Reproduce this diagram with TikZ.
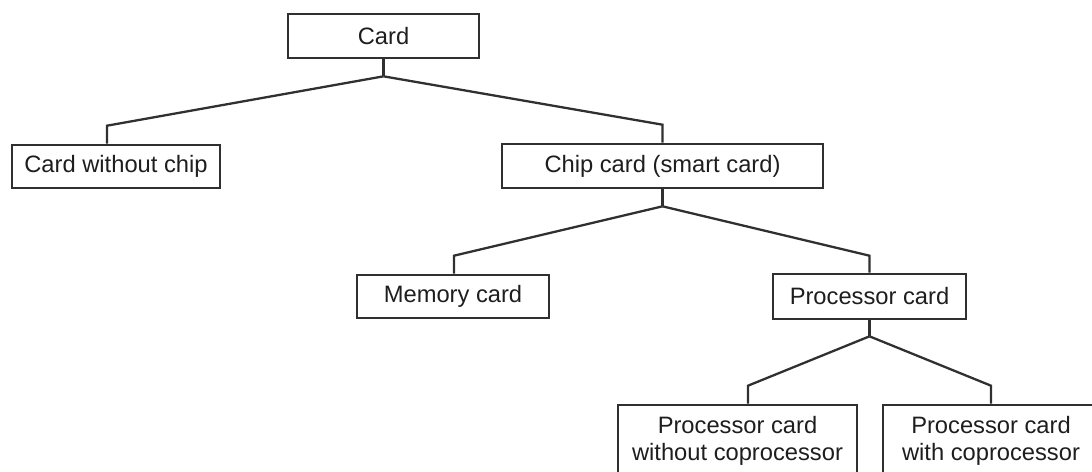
\documentclass[tikz,border=0pt]{standalone}
\usepackage{fontspec}
\setmainfont{Liberation Sans}
\usetikzlibrary{calc}
\definecolor{ink}{HTML}{1E1E1E}
\definecolor{edge}{HTML}{303030}
\tikzset{
  box/.style={draw=edge, line width=1.5pt, fill=white, text=ink, inner sep=0pt,
    font=\fontsize{13.5}{15.4}\selectfont, align=center},
  link/.style={draw=edge, line width=1.3pt, line join=miter}
}
\begin{document}
\begin{tikzpicture}[x=0.02cm, y=-0.02cm]
  \useasboundingbox (0,0) rectangle (1092,471);
  \clip (0,0) rectangle (1092,471);

  % level 0
  \node[box, minimum width=191*0.02cm, minimum height=44*0.02cm] (card) at (383.5,36) {Card};
  % level 1
  \node[box, minimum width=208*0.02cm, minimum height=43*0.02cm] (nochip) at (116,166.5) {Card without chip};
  \node[box, minimum width=321*0.02cm, minimum height=44*0.02cm] (chip) at (662.5,166) {Chip card (smart card)};
  % level 2
  \node[box, minimum width=192*0.02cm, minimum height=43*0.02cm] (mem) at (453,296.5) {Memory card};
  \node[box, minimum width=193*0.02cm, minimum height=45*0.02cm] (proc) at (869.5,296.5) {Processor card};
  % level 3
  \node[box, minimum width=239*0.02cm, minimum height=72*0.02cm] (nocop) at (737.5,441) {Processor card\\without coprocessor};
  \node[box, minimum width=216*0.02cm, minimum height=72*0.02cm] (cop) at (991,441) {Processor card\\with coprocessor};

  % branching points below each parent
  \coordinate (j0) at ($(card.south)+(0,17)$);
  \coordinate (j1) at ($(chip.south)+(0,17)$);
  \coordinate (j2) at ($(proc.south)+(0,16)$);

  \draw[link] (card.south) -- (j0);
  \draw[link] (j0) -- ($(nochip.north)+(-9,-18)$) -- ([xshift=-0.18cm]nochip.north);
  \draw[link] (j0) -- ($(chip.north)+(0,-18)$) -- (chip.north);

  \draw[link] (chip.south) -- (j1);
  \draw[link] (j1) -- ($(mem.north)+(1,-18)$) -- ([xshift=0.02cm]mem.north);
  \draw[link] (j1) -- ($(proc.north)+(0,-17)$) -- (proc.north);

  \draw[link] (proc.south) -- (j2);
  \draw[link] (j2) -- ($(nocop.north)+(10.5,-18)$) -- ([xshift=0.21cm]nocop.north);
  \draw[link] (j2) -- ($(cop.north)+(0,-18)$) -- (cop.north);
\end{tikzpicture}
\end{document}
